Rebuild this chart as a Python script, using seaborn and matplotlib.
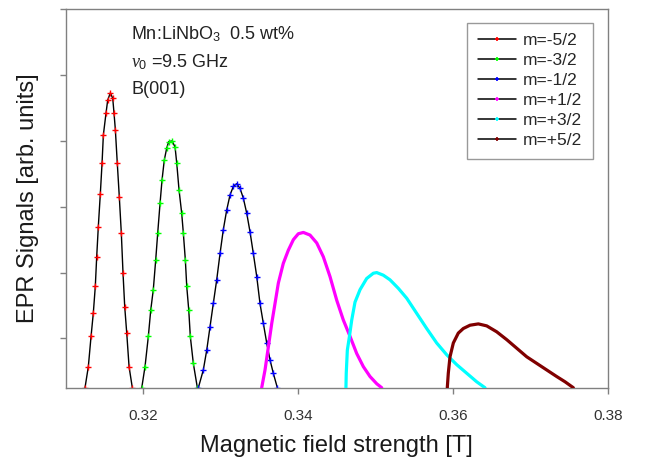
import matplotlib
matplotlib.use("Agg")
import matplotlib.pyplot as plt
from matplotlib.lines import Line2D
import seaborn as sns

# ---- data ----
labels = ["m=-5/2", "m=-3/2", "m=-1/2", "m=+1/2", "m=+3/2", "m=+5/2"]
colors = ["#ff0000", "#00ff00", "#0000ff", "#ff00ff", "#00ffff", "#800000"]

x_m52 = [0.31249, 0.31292, 0.31327, 0.31356, 0.31382, 0.31400, 0.31421, 0.31447, 0.31469, 0.31486,
         0.31520, 0.31542, 0.31576, 0.31607, 0.31624, 0.31641, 0.31666, 0.31692, 0.31718, 0.31740,
         0.31762, 0.31788, 0.31818, 0.31860]
y_m52 = [0, 0.32, 0.78, 1.13, 1.54, 1.99, 2.45, 2.95, 3.41, 3.84, 4.17, 4.37, 4.48, 4.40, 4.17, 3.92,
         3.41, 2.90, 2.35, 1.74, 1.23, 0.83, 0.32, 0]

x_m32 = [0.31982, 0.32024, 0.32067, 0.32098, 0.32131, 0.32162, 0.32188, 0.32218, 0.32244, 0.32273,
         0.32304, 0.32330, 0.32373, 0.32412, 0.32434, 0.32463, 0.32498, 0.32519, 0.32545, 0.32563,
         0.32589, 0.32609, 0.32648, 0.32700]
y_m32 = [0, 0.32, 0.78, 1.18, 1.49, 1.94, 2.35, 2.80, 3.16, 3.46, 3.64, 3.74, 3.75, 3.66, 3.41, 3.01,
         2.65, 2.35, 1.94, 1.54, 1.18, 0.78, 0.37, 0]

x_m12 = [0.32713, 0.32777, 0.32821, 0.32864, 0.32906, 0.32950, 0.32993, 0.33035, 0.33079, 0.33122,
         0.33165, 0.33208, 0.33251, 0.33294, 0.33338, 0.33380, 0.33423, 0.33467, 0.33509, 0.33552,
         0.33596, 0.33639, 0.33681, 0.33733]
y_m12 = [0, 0.27, 0.57, 0.93, 1.28, 1.64, 2.04, 2.40, 2.70, 2.93, 3.06, 3.10, 3.03, 2.88, 2.65, 2.37,
         2.04, 1.69, 1.28, 0.98, 0.68, 0.42, 0.22, 0]

x_p12 = [0.33531, 0.33574, 0.33617, 0.33661, 0.33703, 0.33746, 0.33810, 0.33875, 0.33940, 0.34004,
         0.34069, 0.34155, 0.34242, 0.34327, 0.34413, 0.34500, 0.34585, 0.34672, 0.34758, 0.34844,
         0.34930, 0.35017, 0.35081]
y_p12 = [0, 0.27, 0.62, 0.98, 1.28, 1.59, 1.89, 2.09, 2.25, 2.34, 2.36, 2.32, 2.20, 1.99, 1.69, 1.33,
         1.03, 0.78, 0.52, 0.32, 0.17, 0.06, 0]

x_p32 = [0.34619, 0.34623, 0.34637, 0.34663, 0.34694, 0.34736, 0.34801, 0.34887, 0.34973, 0.35017,
         0.35102, 0.35188, 0.35296, 0.35404, 0.35533, 0.35662, 0.35791, 0.35921, 0.36050, 0.36179,
         0.36308, 0.36415]
y_p32 = [0, 0.22, 0.57, 0.77, 1.03, 1.30, 1.49, 1.66, 1.74, 1.75, 1.71, 1.64, 1.51, 1.36, 1.13, 0.90,
         0.68, 0.50, 0.35, 0.22, 0.09, 0]

x_p52 = [0.35928, 0.35941, 0.35963, 0.36006, 0.36070, 0.36135, 0.36222, 0.36329, 0.36437, 0.36566,
         0.36696, 0.36825, 0.36954, 0.37083, 0.37212, 0.37341, 0.37449, 0.37556]
y_p52 = [0, 0.22, 0.47, 0.68, 0.83, 0.90, 0.95, 0.97, 0.94, 0.85, 0.73, 0.60, 0.47, 0.37, 0.27, 0.17,
         0.09, 0]

xs = [x_m52, x_m32, x_m12, x_p12, x_p32, x_p52]
ys = [y_m52, y_m32, y_m12, y_p12, y_p32, y_p52]
dense = [False, False, False, True, True, True]

x_ticks = [0.32, 0.34, 0.36, 0.38]
x_tick_labels = ["0.32", "0.34", "0.36", "0.38"]
y_ticks = [0.75, 1.75, 2.75, 3.75, 4.75, 5.75]

# ---- style ----
sns.set_style("ticks")
plt.rcParams["font.family"] = ["Liberation Sans", "DejaVu Sans"]
plt.rcParams["mathtext.fontset"] = "custom"
plt.rcParams["mathtext.rm"] = "Liberation Sans"
plt.rcParams["mathtext.it"] = "Liberation Serif:italic"

fig = plt.figure(figsize=(6.45, 4.59), dpi=100)
ax = fig.add_axes([0.1019, 0.1553, 0.8403, 0.8244])

grey = "#808080"
for x, y, c, d in zip(xs, ys, colors, dense):
    if d:
        sns.lineplot(x=x, y=y, ax=ax, sort=False, color="black", lw=1.0, zorder=2)
        sns.lineplot(x=x, y=y, ax=ax, sort=False, color=c, lw=2.3, zorder=3)
    else:
        sns.lineplot(x=x, y=y, ax=ax, sort=False, color="black", lw=1.0, zorder=2,
                     marker="+", markersize=4, markeredgecolor=c, markeredgewidth=1.0)

ax.set_xlim(0.31, 0.38)
ax.set_ylim(0, 5.751)
ax.set_xticks(x_ticks)
ax.set_xticklabels(x_tick_labels)
ax.set_yticks(y_ticks)
ax.set_yticklabels([])
ax.tick_params(axis="both", direction="out", length=4, width=1, color=grey,
               labelsize=11, labelcolor="#333333")
ax.tick_params(axis="x", pad=11)
ax.tick_params(axis="y", pad=3)
for s in ax.spines.values():
    s.set_color(grey)
    s.set_linewidth(1.0)

ax.set_xlabel("Magnetic field strength [T]", fontsize=17, color="#1a1a1a", labelpad=9)
ax.set_ylabel("EPR Signals [arb. units]", fontsize=17, color="#1a1a1a", labelpad=12)

ax.text(0.121, 0.935, r"Mn:LiNbO$_3$  0.5 wt%", transform=ax.transAxes, fontsize=13,
        color="#222222", va="center", ha="left")
ax.text(0.121, 0.860, r"$\nu_0$ =9.5 GHz", transform=ax.transAxes, fontsize=13,
        color="#222222", va="center", ha="left")
ax.text(0.121, 0.787, "B(001)", transform=ax.transAxes, fontsize=13,
        color="#222222", va="center", ha="left")

handles = [Line2D([0], [0], color="black", lw=1.1, marker="+", markersize=3,
                  markeredgecolor=c, markeredgewidth=1.2) for c in colors]
leg = ax.legend(handles, labels, loc="upper right", bbox_to_anchor=(0.9723, 0.9646),
                borderaxespad=0, fontsize=12.5, frameon=True, fancybox=False,
                edgecolor=grey, handlelength=2.2, handletextpad=0.4,
                labelspacing=0.28, borderpad=0.6, numpoints=1)
leg.get_frame().set_linewidth(1.0)

fig.savefig("out.png", dpi=100)
